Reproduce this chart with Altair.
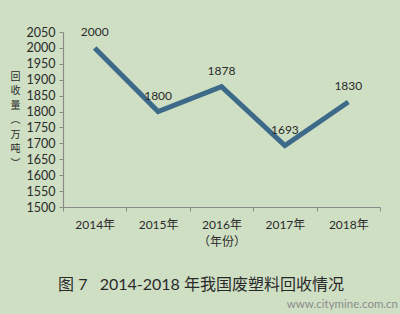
import altair as alt
import pandas as pd

years = ["2014年", "2015年", "2016年", "2017年", "2018年"]
values = [2000, 1800, 1878, 1693, 1830]
y_ticks = list(range(1500, 2051, 50))
y_title = ["回", "收", "量", "︵", "万", "吨", "︶"]
x_title = "（年份）"
caption = "图 7\u00a0\u00a0\u00a02014-2018 年我国废塑料回收情况"
watermark = "www.citymine.com.cn"

df = pd.DataFrame({"year": years, "value": values})

FONT = "Lato, Noto Sans CJK SC"
CJK = "Noto Sans CJK SC"
BG = "#cfdfc4"
LINE = "#3e6a8a"
TXT = "#2a2a2a"

x = alt.X("year:N", sort=years,
          scale=alt.Scale(paddingInner=0, paddingOuter=0),
          axis=alt.Axis(title=x_title, labelAngle=0, tickBand="extent",
                        labelFont=FONT, labelFontSize=12, labelColor=TXT,
                        labelPadding=8, titleFont=FONT, titleFontSize=12,
                        titleFontWeight="normal", titleColor=TXT, titlePadding=6,
                        domainColor="#8a8a8a", tickColor="#8a8a8a", tickSize=4,
                        domainWidth=1.2))
y = alt.Y("value:Q",
          scale=alt.Scale(domain=[1500, 2050], nice=False, zero=False),
          axis=alt.Axis(values=y_ticks, format="d", title=y_title, titleAngle=0,
                        titleX=-48, titleY=39, titleBaseline="top",
                        titleAlign="center", titleLineHeight=14.5,
                        titleFont=CJK, titleFontSize=10, titleFontWeight="normal",
                        titleColor=TXT, labelFont=FONT, labelFontSize=12.5,
                        labelColor=TXT, labelPadding=4, grid=False,
                        domainColor="#8a8a8a", tickColor="#8a8a8a", tickSize=4,
                        domainWidth=1.2))

line = alt.Chart(df).mark_line(color=LINE, strokeWidth=5, strokeCap="butt").encode(x=x, y=y)
labels = alt.Chart(df).mark_text(dy=-16, font=FONT, fontSize=12, color=TXT).encode(
    x=x, y=y, text=alt.Text("value:Q", format="d"))

cap = alt.Chart(pd.DataFrame({"t": [caption]})).mark_text(
    font=FONT, fontSize=16, color=TXT, align="center", baseline="middle").encode(
    x=alt.value(138), y=alt.value(253), text="t:N")
wm = alt.Chart(pd.DataFrame({"t": [watermark]})).mark_text(
    font=FONT, fontSize=11.5, color="#8c8c8c", align="right", baseline="middle").encode(
    x=alt.value(335), y=alt.value(273), text="t:N")

chart = alt.layer(line, labels, cap, wm).properties(
    width=317, height=175,
    autosize=alt.AutoSizeParams(type="none"),
    padding={"left": 63, "top": 32, "right": 20, "bottom": 107},
    background=BG,
).configure_view(stroke=None)

chart.save("out.html", embed_options={"renderer": "svg", "actions": False})
